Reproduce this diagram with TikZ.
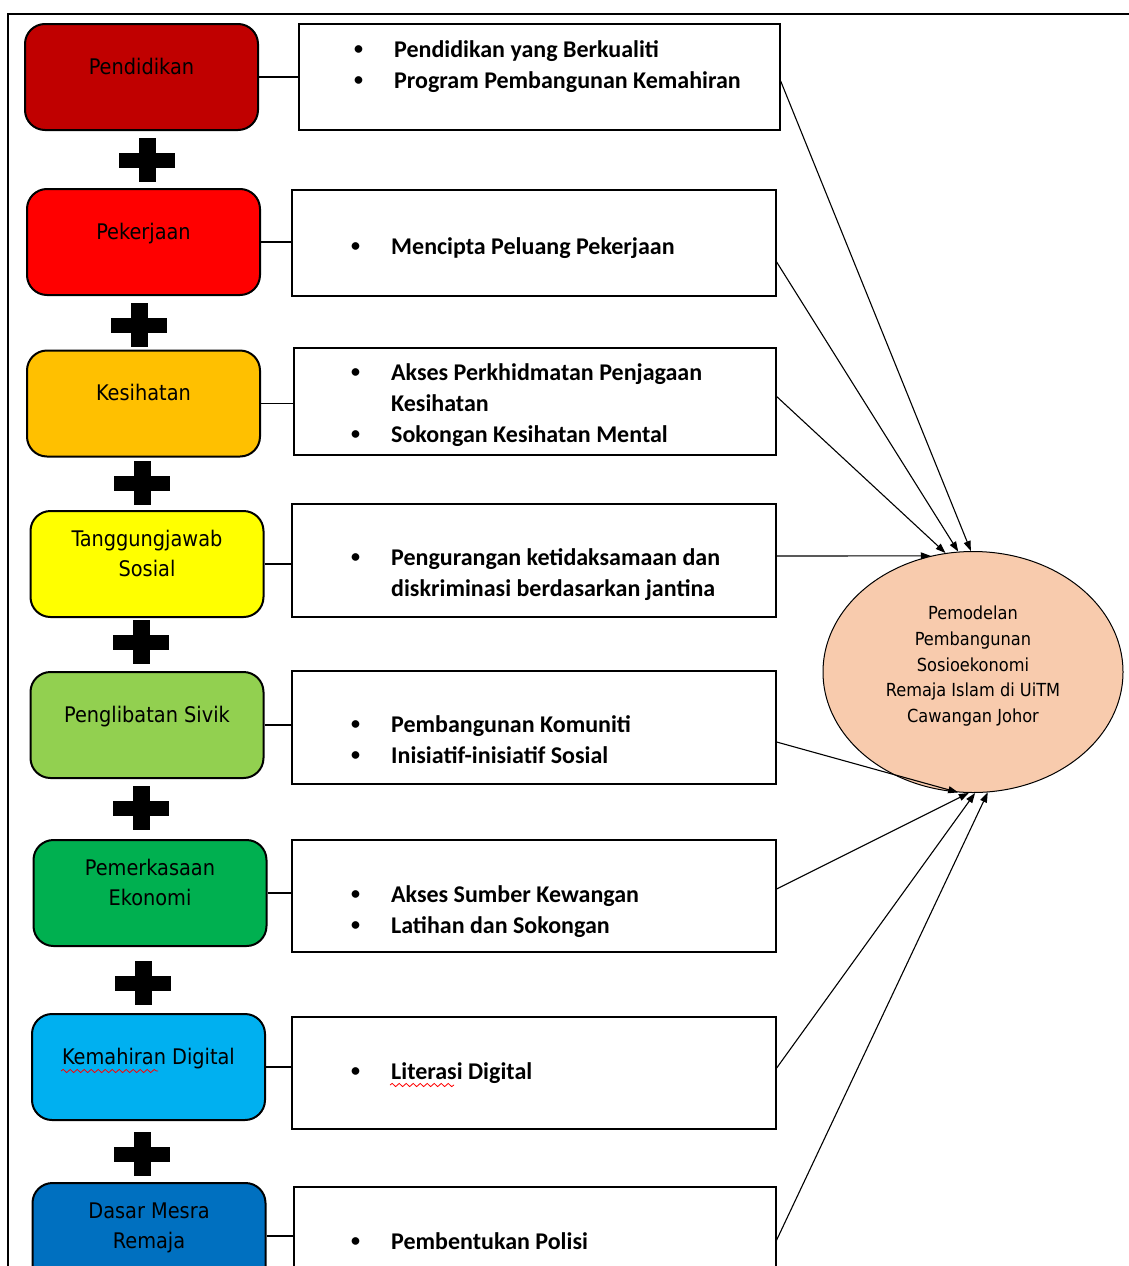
\documentclass[tikz,border=0pt]{standalone}
\usepackage{fontspec}
\setmainfont{Carlito}
\newfontfamily\boxfont{DejaVu Sans Condensed}
\usetikzlibrary{arrows.meta,shapes.geometric,decorations.pathmorphing}

\definecolor{cPend}{HTML}{C00000}
\definecolor{cKerja}{HTML}{FF0000}
\definecolor{cSihat}{HTML}{FFC000}
\definecolor{cSosial}{HTML}{FFFF00}
\definecolor{cSivik}{HTML}{92D050}
\definecolor{cEkonomi}{HTML}{00B050}
\definecolor{cDigital}{HTML}{00B0F0}
\definecolor{cDasar}{HTML}{0070C0}
\definecolor{cModel}{HTML}{F8CBAD}

\newcommand{\lift}[1]{\raisebox{9pt}[\height][\depth]{\begin{tabular}{@{}c@{}}#1\end{tabular}}}
\newcommand{\blt}{\hspace*{2pt}\raisebox{2.5pt}{\fontsize{18}{18}\selectfont\textbullet}}

\begin{document}
\begin{tikzpicture}[x=1pt,y=-1pt,
  lbox/.style={draw, line width=2pt, rounded corners=20pt, minimum width=233pt,
    minimum height=106pt, inner sep=0pt, font=\boxfont\fontsize{21.5}{30}\selectfont},
  rbox/.style={draw, line width=1.3pt, minimum width=484pt, minimum height=112pt, inner sep=0pt},
  items/.style={anchor=base west, inner sep=0pt, font=\bfseries\fontsize{24}{31}\selectfont},
  link/.style={line width=1.3pt},
  arr/.style={line width=1.1pt, -{Triangle[length=10pt,width=7pt]}},
  squiggle/.style={red, line width=0.8pt, decorate, decoration={snake, amplitude=1.6pt, segment length=7pt}},
  plussign/.pic={\fill (-8.5,-22) rectangle (8.5,22); \fill (-28,-7.5) rectangle (28,7.5);}]
\useasboundingbox (0,0) rectangle (1129,1266);

% frame
\draw[line width=1.5pt] (8,1280) -- (8,14) -- (1140,14);

% left column
\node[lbox, fill=cPend] (pend) at (141.5,77) {\lift{Pendidikan}};
\node[lbox, fill=cKerja] (kerja) at (143.5,242) {\lift{Pekerjaan}};
\node[lbox, fill=cSihat] (sihat) at (143.5,403.5) {\lift{Kesihatan}};
\node[lbox, fill=cSosial] (sosial) at (147,564) {\lift{Tanggungjawab\\Sosial}};
\node[lbox, fill=cSivik] (sivik) at (147,725) {\lift{Penglibatan Sivik}};
\node[lbox, fill=cEkonomi] (ekonomi) at (150,893) {\lift{Pemerkasaan\\Ekonomi}};
\node[lbox, fill=cDigital] (digital) at (148.5,1067) {\lift{Kemahiran Digital}};
\node[lbox, fill=cDasar] (dasar) at (149,1236) {\lift{Dasar Mesra\\Remaja}};

\foreach \x/\y in {147/160, 139/325, 142/483, 141/642, 141/808, 143/983, 142/1154}
  \pic at (\x,\y) {plussign};

% right column
\node[rbox, minimum width=481pt, minimum height=106pt] (pendR) at (539.5,77) {};
\node[rbox, minimum height=106pt] (kerjaR) at (534,243) {};
\node[rbox, minimum width=482pt, minimum height=107pt] (sihatR) at (535,401.5) {};
\node[rbox, minimum height=113pt] (sosialR) at (534,560.5) {};
\node[rbox, minimum height=113pt] (sivikR) at (534,727.5) {};
\node[rbox] (ekonomiR) at (534,896) {};
\node[rbox] (digitalR) at (534,1073) {};
\node[rbox, minimum width=482pt] (dasarR) at (535,1243) {};

\node[items] (pendT) at (352,57) {\begin{tabular}[t]{@{}p{42pt}@{}l@{}}
  \blt & Pendidikan yang Berkualiti\\ \blt & Program Pembangunan Kemahiran\end{tabular}};
\node[items] (kerjaT) at (349,254) {\begin{tabular}[t]{@{}p{42pt}@{}l@{}}
  \blt & Mencipta Peluang Pekerjaan\end{tabular}};
\node[items] (sihatT) at (349,380) {\begin{tabular}[t]{@{}p{42pt}@{}l@{}}
  \blt & Akses Perkhidmatan Penjagaan\\ & Kesihatan\\ \blt & Sokongan Kesihatan Mental\end{tabular}};
\node[items] (sosialT) at (349,565) {\begin{tabular}[t]{@{}p{42pt}@{}l@{}}
  \blt & Pengurangan ketidaksamaan dan\\ & diskriminasi berdasarkan jantina\end{tabular}};
\node[items] (sivikT) at (349,732) {\begin{tabular}[t]{@{}p{42pt}@{}l@{}}
  \blt & Pembangunan Komuniti\\ \blt & Inisiatif-inisiatif Sosial\end{tabular}};
\node[items] (ekonomiT) at (349,902) {\begin{tabular}[t]{@{}p{42pt}@{}l@{}}
  \blt & Akses Sumber Kewangan\\ \blt & Latihan dan Sokongan\end{tabular}};
\node[items] (digitalT) at (349,1079) {\begin{tabular}[t]{@{}p{42pt}@{}l@{}}
  \blt & Literasi Digital\end{tabular}};
\node[items] (dasarT) at (349,1249) {\begin{tabular}[t]{@{}p{42pt}@{}l@{}}
  \blt & Pembentukan Polisi\end{tabular}};

% spell-check marks
\draw[squiggle] (61,1071) -- (158,1071);
\draw[squiggle] (390,1085) -- (454,1085);

% outcome
\node[ellipse, draw, line width=1pt, fill=cModel, minimum width=300pt, minimum height=241pt,
  inner sep=0pt, font=\boxfont\fontsize{18}{25.7}\selectfont] (model) at (973,672)
  {\raisebox{6pt}[\height][\depth]{\begin{tabular}{@{}c@{}}Pemodelan\\Pembangunan\\Sosioekonomi\\Remaja Islam di UiTM\\Cawangan Johor\end{tabular}}};

\foreach \n in {pend,kerja,sihat,sosial,sivik,ekonomi,digital,dasar}
  \draw[link] (\n.east) -- (\n.east -| \n R.west);

\draw[arr] ([yshift=-4pt]pendR.east) -- (model.91);
\draw[arr] ([yshift=-19pt]kerjaR.east) -- (model.97);
\draw[arr] ([yshift=5pt]sihatR.east) -- (model.103);
\draw[arr] ([yshift=4.5pt]sosialR.east) -- (model.110);
\draw[arr] ([yshift=-14.5pt]sivikR.east) -- (model.263);
\draw[arr] ([yshift=7pt]ekonomiR.east) -- (model.268);
\draw[arr] ([yshift=5pt]digitalR.east) -- (model.271);
\draw[arr] ([yshift=3pt]dasarR.east) -- (model.277);
\end{tikzpicture}
\end{document}
